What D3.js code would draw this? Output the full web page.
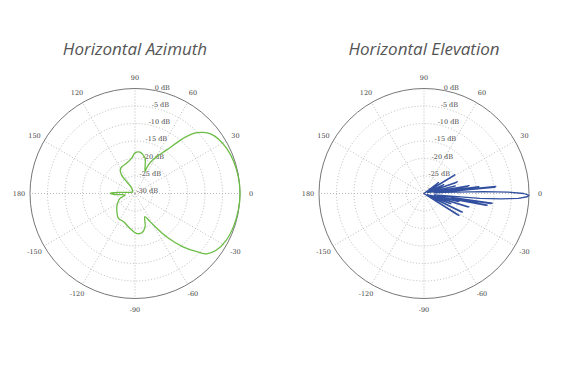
<!DOCTYPE html>
<html>
<head>
<meta charset="utf-8">
<script src="https://cdn.jsdelivr.net/npm/d3@7"></script>
<style>
  body { margin: 0; background: #fff; }
  svg { display: block; }
</style>
</head>
<body>
<svg width="570" height="377"></svg>
<script>
// ring and spoke labels
const ringDb = [0, -5, -10, -15, -20, -25, -30];
const spokeDeg = [0, 30, 60, 90, 120, 150, 180, -150, -120, -90, -60, -30];

// horizontal azimuth (green), angle in degrees, level in dB
const azAngles = [-180, -178, -176, -172, -165, -162, -150, -138, -124, -112, -98, -88, -80, -73, -67, -62,
  -54, -48, -43, -40, -35, -27, -18, -9, 0, 9, 18, 26, 33, 38, 42, 46, 49, 54, 62, 65.5, 65.4, 74, 78, 83, 90, 95, 105, 116,
  122, 126, 125, 121, 135, 150, 165, 172, 176, 178];
const azDb = [-22.9, -23.8, -25.5, -27.2, -26.3, -25.5, -24.2, -23, -21.5, -21.3, -19.9, -18.6, -18.6, -20.1, -22.8, -20.9,
  -14.7, -9.5, -5.5, -3.2, -1.7, -0.7, -0.3, -0.1, 0, -0.1, -0.35, -0.8, -1.5, -2.4, -3.9, -6.2, -9.3, -14.6, -19.1, -21.7, -23.1, -19.5, -18.8, -18.1, -18.4, -19.8, -21, -21.5,
  -22, -23.5, -25.9, -28.2, -29, -29.2, -28.8, -27.5, -25.5, -23.8];

// horizontal elevation (blue)
const elAngles = [-180, -40, -34, -32.6, -32, -31, -28, -26.3, -25.7, -24, -22.5, -21.3, -20.7, -19.5, -18, -17.1, -16.5,
  -15.5, -14, -13.3, -12.7, -12, -10.9, -10.3, -9.6, -8.7, -8.1, -7.2, -6, -5, -4, -3, -1.8, -1, 0, 1, 1.8, 2.8, 4, 5, 5.6, 6.2,
  6.6, 7.2, 8, 9.4, 10, 11, 12.5, 13.2, 13.8, 15, 17.5, 18.8, 19.4, 21, 23, 23.7, 24.3, 25.5, 29, 30.8, 31.4, 33, 36, 36.7, 37.3,
  38.5, 60, 180];
const elDb = [-30, -30, -29, -18.6, -18.2, -29, -28.5, -18.2, -17.8, -28.5, -29, -22.2, -21.8, -29, -28, -17, -16.6,
  -28, -27, -20.2, -19.8, -26, -12, -11.6, -22, -10.7, -10.3, -27, -24, -14, -8, -3, -0.5, 0, -1.5, -6, -13, -24, -27, -9.8, -9.4, -26,
  -14.6, -14.2, -27, -17.3, -16.9, -28, -27, -21.2, -20.8, -29, -28, -20.3, -19.9, -29, -28, -24.2, -23.8, -29, -28, -20.1, -19.7, -29, -29, -25.2, -24.8,
  -29.5, -30, -30];

const svg = d3.select("svg");
const R = 105;

const rScale = d3.scaleLinear().domain([-30, 0]).range([0, R]).clamp(true);

function toXY(deg, r) {
  const a = deg * Math.PI / 180;
  return [r * Math.cos(a), -r * Math.sin(a)];
}

function drawPolar(cx, cy, title, angles, dbs, color, curve) {
  const g = svg.append("g").attr("transform", `translate(${cx},${cy})`);

  svg.append("text")
    .attr("x", cx)
    .attr("y", 55)
    .attr("text-anchor", "middle")
    .style("font-family", "'Open Sans', sans-serif")
    .style("font-style", "italic")
    .style("font-size", "17px")
    .attr("fill", "#555")
    .text(title);

  // dotted rings
  g.selectAll("circle.ring")
    .data(ringDb.filter(d => d > -30 && d < 0)).enter()
    .append("circle")
      .attr("class", "ring")
      .attr("r", d => rScale(d))
      .attr("fill", "none")
      .attr("stroke", "#aaa")
      .attr("stroke-width", 0.8)
      .attr("stroke-dasharray", "1,2");

  // dotted spokes
  g.selectAll("line.spoke")
    .data(spokeDeg).enter()
    .append("line")
      .attr("class", "spoke")
      .attr("x1", 0).attr("y1", 0)
      .attr("x2", d => toXY(d, R)[0])
      .attr("y2", d => toXY(d, R)[1])
      .attr("stroke", "#aaa")
      .attr("stroke-width", 0.8)
      .attr("stroke-dasharray", "1,2");

  // outer ring
  g.append("circle")
    .attr("r", R)
    .attr("fill", "none")
    .attr("stroke", "#666")
    .attr("stroke-width", 0.9);

  // angle labels
  g.selectAll("text.ang")
    .data(spokeDeg).enter()
    .append("text")
      .attr("class", "ang")
      .attr("x", d => toXY(d, 116)[0])
      .attr("y", d => toXY(d, 116)[1])
      .attr("text-anchor", "middle")
      .attr("dy", "0.35em")
      .style("font-family", "'DejaVu Serif', serif")
      .style("font-size", "6.5px")
      .attr("fill", "#444")
      .text(d => d);

  // dB labels along 80 degrees
  g.selectAll("text.db")
    .data(ringDb).enter()
    .append("text")
      .attr("class", "db")
      .attr("x", d => toXY(80, rScale(d))[0] + 1.5)
      .attr("y", d => toXY(80, rScale(d))[1] - 0.5)
      .style("font-family", "'DejaVu Serif', serif")
      .style("font-size", "6.5px")
      .attr("fill", "#444")
      .text(d => d + " dB");

  const pts = angles.map((a, i) => [a, dbs[i]]);
  const line = d3.lineRadial()
    .angle(d => (90 - d[0]) * Math.PI / 180)
    .radius(d => rScale(d[1]))
    .curve(curve);

  g.append("path")
    .datum(pts)
    .attr("d", line)
    .attr("fill", "none")
    .attr("stroke", color)
    .attr("stroke-width", 1.3)
    .attr("stroke-linejoin", "round");
}

drawPolar(135, 193.5, "Horizontal Azimuth", azAngles, azDb, "#6cbd45", d3.curveCatmullRomClosed.alpha(0.5));
drawPolar(424, 193.5, "Horizontal Elevation", elAngles, elDb, "#32509f", d3.curveLinearClosed);
</script>
</body>
</html>
